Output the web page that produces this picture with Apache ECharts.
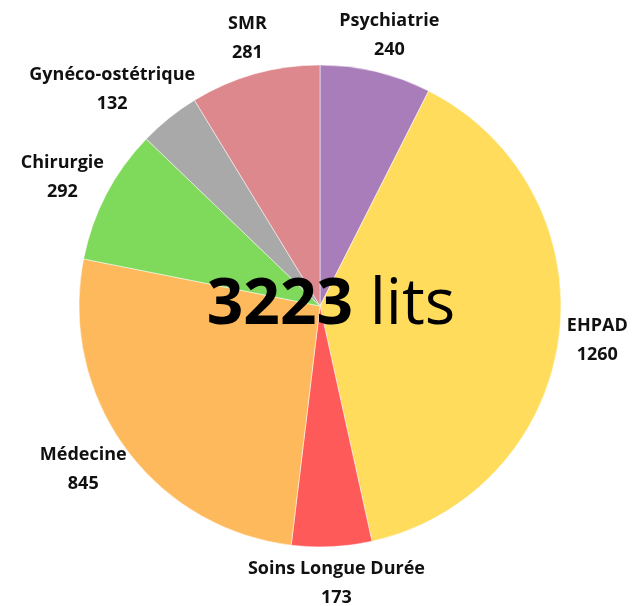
<!DOCTYPE html>
<html>
<head>
<meta charset="utf-8">
<script src="https://cdn.jsdelivr.net/npm/echarts@6/dist/echarts.min.js"></script>
<style>
  html, body { margin: 0; padding: 0; background: #fff; }
  #chart { width: 636px; height: 606px; }
</style>
</head>
<body>
<div id="chart"></div>
<script>
var categories = ["Psychiatrie", "EHPAD", "Soins Longue Durée", "Médecine", "Chirurgie", "Gynéco-ostétrique", "SMR"];
var values = [240, 1260, 173, 845, 292, 132, 281];
var colors = ["#a97cba", "#ffdc5b", "#ff5a5a", "#fdb95b", "#7fda5b", "#a9a9a9", "#dc888d"];

var cx = 320, cy = 306, radius = 241;
var total = values.reduce(function(a, b) { return a + b; }, 0);

// mid angle of each slice, clockwise from 12 o'clock
var midAngles = [];
var acc = 0;
values.forEach(function(v) {
  midAngles.push((acc + v / 2) / total * Math.PI * 2);
  acc += v;
});

var chart = echarts.init(document.getElementById("chart"));
chart.setOption({
  animation: false,
  color: colors,
  graphic: [
    {
      type: "text",
      z: 100,
      style: {
        x: 331,
        y: 306,
        align: "center",
        verticalAlign: "middle",
        text: "{a|" + total + "}{b| lits}",
        rich: {
          a: { fontFamily: "Open Sans", fontWeight: 700, fontSize: 64, fill: "#000" },
          b: { fontFamily: "Open Sans", fontWeight: 400, fontSize: 64, fill: "#000" }
        }
      }
    }
  ],
  series: [
    {
      type: "pie",
      center: [cx, cy],
      radius: [0, radius],
      startAngle: 90,
      clockwise: true,
      itemStyle: { borderColor: "#fff", borderWidth: 0.5 },
      label: {
        show: true,
        position: "outside",
        formatter: "{b}\n{c}",
        fontFamily: "Open Sans",
        fontWeight: 700,
        fontSize: 18,
        lineHeight: 29,
        color: "#111",
        align: "center",
        overflow: "none"
      },
      labelLine: { show: false },
      labelLayout: function(p) {
        var a = midAngles[p.dataIndex];
        var sx = Math.sin(a), sy = -Math.cos(a);
        var w = p.labelRect.width, h = p.labelRect.height;
        var r = radius + 8;
        return {
          x: cx + sx * r + sx * (w / 2),
          y: cy + sy * r + sy * (h / 2),
          align: "center",
          verticalAlign: "middle"
        };
      },
      data: categories.map(function(name, i) {
        return { name: name, value: values[i] };
      })
    }
  ]
});
</script>
</body>
</html>
